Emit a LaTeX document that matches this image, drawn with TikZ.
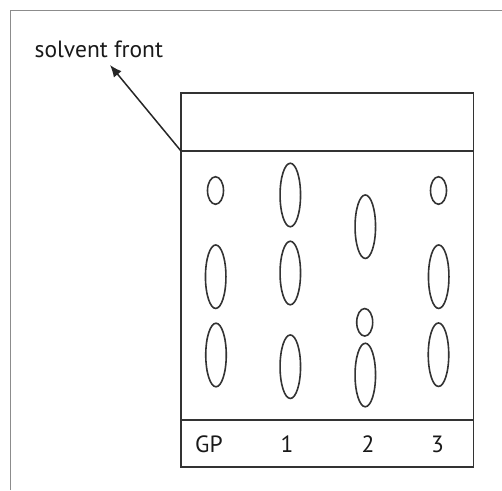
\documentclass[tikz,border=0pt]{standalone}
\usepackage{fontspec}
\setmainfont{PT Sans}
\usetikzlibrary{shapes.geometric,arrows.meta}
\begin{document}
\begin{tikzpicture}[x=1pt,y=-1pt,
  plate/.style={draw=black!80,line width=1.6pt},
  frameline/.style={draw=black!45,line width=1.6pt},
  spot/.style={ellipse,draw=black!80,line width=1.6pt,inner sep=0pt},
  smallspot/.style={spot,minimum width=16pt,minimum height=27.5pt},
  bigspot/.style={spot,minimum width=20.5pt,minimum height=63.5pt},
  lbl/.style={anchor=base,inner sep=0pt,font=\fontsize{23.5}{28}\selectfont,text=black!90}]
\useasboundingbox (0,0) rectangle (502,490);
% outer frame
\draw[frameline] (10.5,490) -- (10.5,10.5) -- (502,10.5);
% plate
\coordinate (tl) at (181,93);
\coordinate (br) at (473.5,467);
\coordinate (sfl) at (181,151);
\coordinate (sfr) at (473.5,151);
\coordinate (bl) at (181,420);
\coordinate (brl) at (473.5,420);
\draw[plate] (tl) rectangle (br);
\draw[plate] (sfl) -- (sfr);
\draw[plate] (bl) -- (brl);
% spots
\node[smallspot] (gp1) at (215.5,190.5) {};
\node[bigspot]   (gp2) at (215.7,276.7) {};
\node[bigspot]   (gp3) at (216,355) {};
\node[bigspot]   (a1) at (290.3,195) {};
\node[bigspot]   (a2) at (290.3,273) {};
\node[bigspot]   (a3) at (290.3,366.7) {};
\node[bigspot]   (b1) at (365.3,226.7) {};
\node[smallspot] (b2) at (364.7,322.3) {};
\node[bigspot]   (b3) at (365.3,375) {};
\node[smallspot] (c1) at (438.5,190.5) {};
\node[bigspot]   (c2) at (438.7,276.7) {};
\node[bigspot]   (c3) at (438.5,354.7) {};
% labels
\node[lbl] (lgp) at (209,452.7) {GP};
\node[lbl] (l1) at (287,452.7) {1};
\node[lbl] (l2) at (368,452.7) {2};
\node[lbl] (l3) at (437.5,452.7) {3};
\node[lbl] (sf) at (98.8,57.7) {solvent front};
% arrow
\coordinate (tip) at (110,65);
\draw[black!85,line width=1.5pt,-{Latex[length=12pt,width=10pt]}] (sfl) -- (tip);
\end{tikzpicture}
\end{document}
